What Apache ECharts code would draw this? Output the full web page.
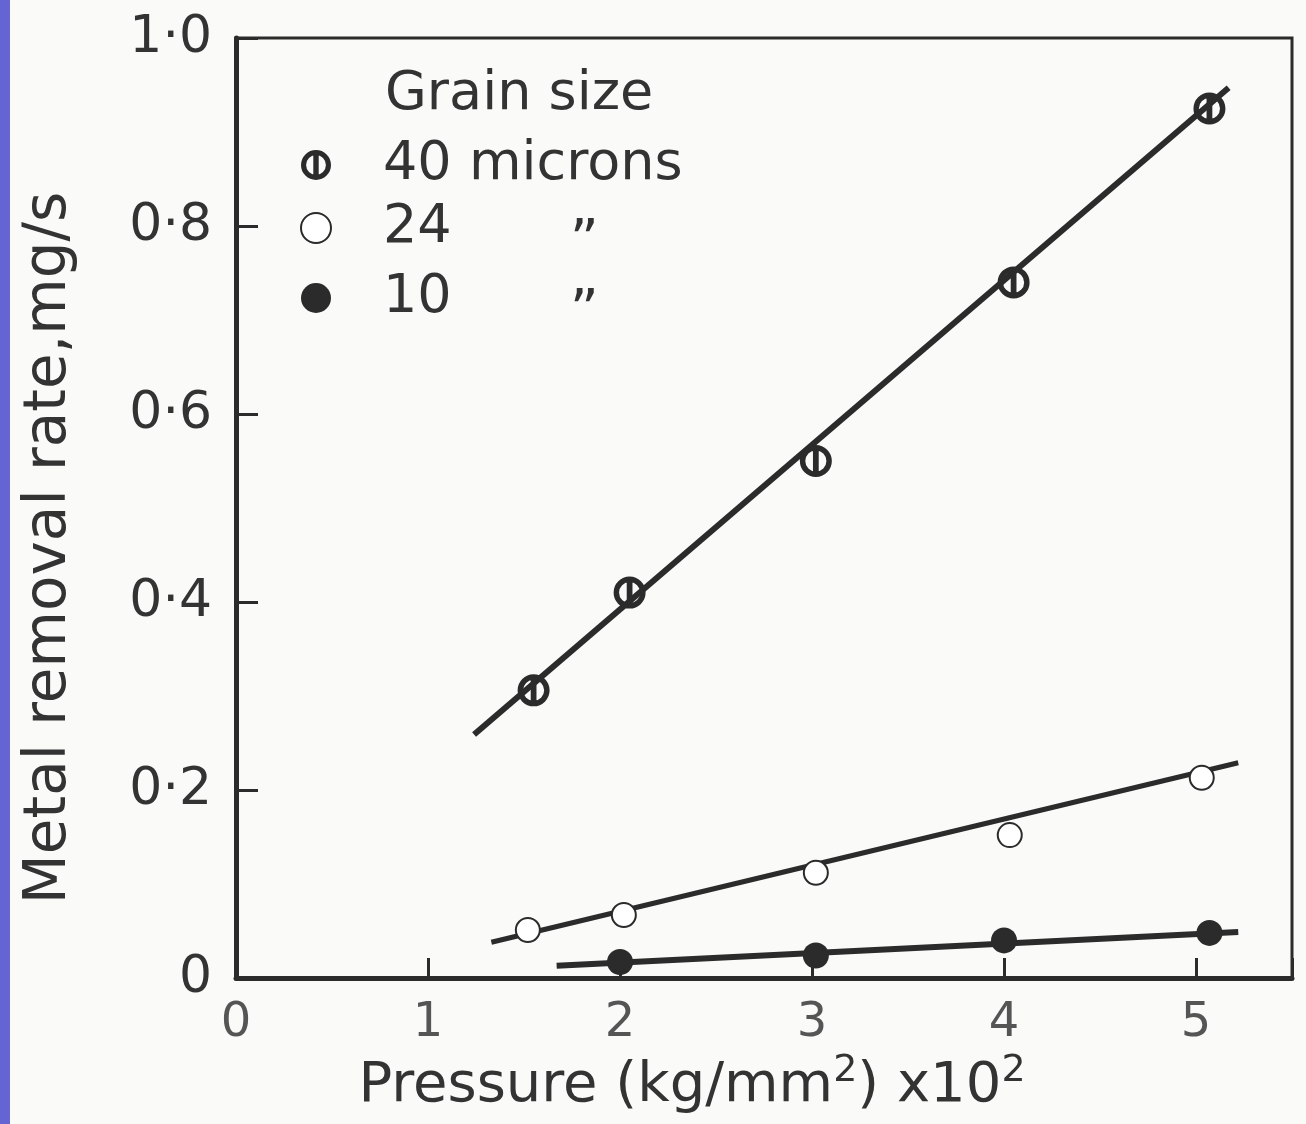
<!DOCTYPE html>
<html><head><meta charset="utf-8">
<script src="https://cdn.jsdelivr.net/npm/echarts@6/dist/echarts.min.js"></script>
<style>html,body{margin:0;padding:0;background:#fafaf8}#c{width:1306px;height:1124px}</style>
</head><body><div id="c"></div>
<script>
// ---- data ----
const yTickLabels = ['0', '0·2', '0·4', '0·6', '0·8', '1·0'];
const xTickLabels = ['0', '1', '2', '3', '4', '5'];
const grainSizes = ['40 microns', '24 microns', '10 microns'];

const pressure40 = [1.55, 2.05, 3.02, 4.05, 5.07];
const rate40     = [0.306, 0.41, 0.55, 0.74, 0.925];
const fitPressure40 = [1.24, 5.17];
const fitRate40     = [0.259, 0.947];

const pressure24 = [1.52, 2.02, 3.02, 4.03, 5.03];
const rate24     = [0.051, 0.067, 0.112, 0.152, 0.213];
const fitPressure24 = [1.33, 5.22];
const fitRate24     = [0.038, 0.229];

const pressure10 = [2.0, 3.02, 4.0, 5.07];
const rate10     = [0.017, 0.024, 0.040, 0.048];
const fitPressure10 = [1.67, 5.22];
const fitRate10     = [0.013, 0.049];

// ---- build ----
const pairs = (xs, ys) => xs.map((x, i) => [x, ys[i]]);
const INK = '#2b2b2b';
const FONT = 'DejaVu Sans';
const phi = 'path://M0,-10A10,10,0,1,1,0,10A10,10,0,1,1,0,-10ZM0,-6.6A6.6,6.6,0,1,0,0,6.6A6.6,6.6,0,1,0,0,-6.6ZM-1.8,-6.6L1.8,-6.6L1.8,6.6L-1.8,6.6Z';

const chart = echarts.init(document.getElementById('c'));
chart.setOption({
  backgroundColor: '#fafaf8',
  animation: false,
  grid: { left: 236, right: 14, top: 38, bottom: 146, show: true, borderColor: INK, borderWidth: 3 },
  xAxis: {
    type: 'value', min: 0, max: 5.5, interval: 1,
    splitLine: { show: false },
    axisLine: { lineStyle: { color: INK, width: 5 } },
    axisTick: { inside: true, length: 20, lineStyle: { color: INK, width: 3 } },
    axisLabel: {
      margin: 22, fontFamily: FONT, fontSize: 48, color: '#555',
      formatter: v => Number.isInteger(v) ? xTickLabels[v] : ''
    }
  },
  yAxis: {
    type: 'value', min: 0, max: 1, interval: 0.2,
    splitLine: { show: false },
    axisLine: { lineStyle: { color: INK, width: 5 } },
    axisTick: { inside: true, length: 22, lineStyle: { color: INK, width: 3 } },
    axisLabel: {
      margin: 24, fontFamily: FONT, fontSize: 52, color: '#333',
      formatter: v => yTickLabels[Math.round(v / 0.2)]
    }
  },
  legend: {
    orient: 'vertical', left: 295, top: 133,
    itemWidth: 124, itemHeight: 30, itemGap: 0,
    selectedMode: false,
    data: [
      { name: grainSizes[0], icon: phi },
      { name: grainSizes[1], icon: 'emptyCircle' },
      { name: grainSizes[2], icon: 'circle' }
    ],
    textStyle: {
      fontFamily: FONT, fontSize: 54, color: '#333',
      rich: {
        d: { fontFamily: FONT, fontSize: 56, color: '#333', padding: [30, 0, 0, 118] },
        e: { fontFamily: FONT, fontSize: 56, color: '#333', padding: [16, 0, 0, 0] }
      }
    },
    formatter: name => {
      if (name === grainSizes[0]) return '40 microns{e| }';
      if (name === grainSizes[1]) return '24{d|”}';
      return '10{d|”}';
    }
  },
  graphic: [
    { type: 'rect', left: 0, top: 0, shape: { width: 10, height: 1124 }, style: { fill: '#6464d2' }, silent: true },
    { type: 'text', left: 385, top: 68, style: { text: 'Grain size', font: '54px "DejaVu Sans"', fill: '#333' } },
    { type: 'text', x: 50, y: 548, rotation: Math.PI / 2,
      style: { text: 'Metal removal rate,mg/s', font: '58px "DejaVu Sans"', fill: '#333', align: 'center', verticalAlign: 'middle' } },
    { type: 'text', x: 692, y: 1086,
      style: { text: 'Pressure (kg/mm{s|2}) x10{s|2}', font: '56px "DejaVu Sans"', fill: '#333', align: 'center', verticalAlign: 'middle',
        rich: { s: { font: '38px "DejaVu Sans"', fill: '#333', padding: [0, 0, 30, 0] } } } }
  ],
  series: [
    { name: 'fit40', type: 'line', data: pairs(fitPressure40, fitRate40), symbol: 'none', lineStyle: { color: INK, width: 6 }, z: 2 },
    { name: 'fit24', type: 'line', data: pairs(fitPressure24, fitRate24), symbol: 'none', lineStyle: { color: INK, width: 5 }, z: 2 },
    { name: 'fit10', type: 'line', data: pairs(fitPressure10, fitRate10), symbol: 'none', lineStyle: { color: INK, width: 6 }, z: 2 },
    { name: grainSizes[0], type: 'scatter', data: pairs(pressure40, rate40), symbol: phi, symbolSize: 32,
      itemStyle: { color: INK, opacity: 1 }, z: 3 },
    { name: grainSizes[1], type: 'scatter', data: pairs(pressure24, rate24), symbol: 'emptyCircle', symbolSize: 24,
      itemStyle: { color: INK, borderWidth: 4, opacity: 1 }, z: 3 },
    { name: grainSizes[2], type: 'scatter', data: pairs(pressure10, rate10), symbol: 'circle', symbolSize: 26,
      itemStyle: { color: INK, opacity: 1 }, z: 3 }
  ]
});
</script>
</body></html>
